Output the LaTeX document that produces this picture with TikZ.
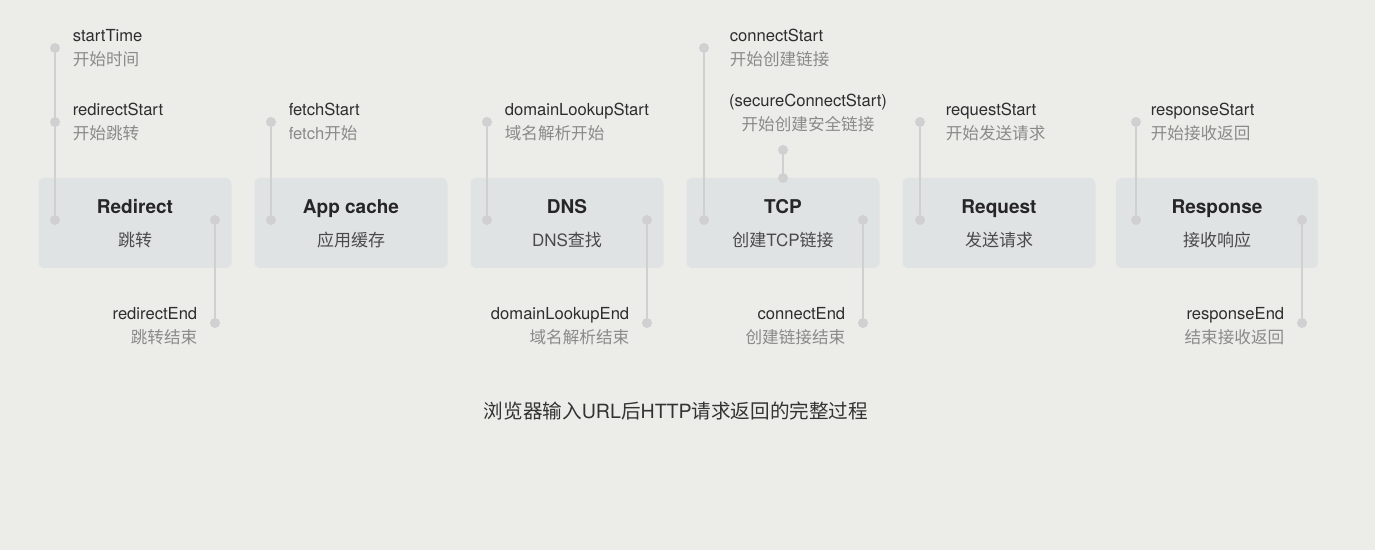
\documentclass[tikz,border=0pt]{standalone}
\usepackage{fontspec}
\setmainfont{TeX Gyre Heros}
\newfontfamily\cjk{Noto Sans CJK SC}
\usepackage{xcolor}
\usepackage{tikz}
\usetikzlibrary{positioning}
\definecolor{tpaper}{HTML}{ECECE9}
\definecolor{tboxfill}{HTML}{DFE3E4}
\definecolor{tline}{HTML}{D0D0D0}
\definecolor{tname}{HTML}{2E2E2E}
\definecolor{tcn}{HTML}{8A8A8A}
\definecolor{tsub}{HTML}{4A4A4A}
\tikzset{
  tbox/.style={rounded corners=3pt, fill=tboxfill, draw=none,
               minimum width=96.5pt, minimum height=45pt, inner sep=0pt},
  ttitle/.style={font=\fontsize{9.5}{10}\selectfont\bfseries, text=black!85,
                 inner sep=0pt, anchor=base},
  tsubt/.style={font=\fontsize{8.5}{10}\selectfont, text=tsub, inner sep=0pt, anchor=base},
  tdot/.style={circle, fill=tline, draw=none, minimum size=5pt, inner sep=0pt},
  tconn/.style={tline, line width=1pt},
  tlbl/.style={font=\fontsize{8.3}{12}\selectfont, inner sep=0pt},
  tcap/.style={font=\fontsize{9.8}{12}\selectfont, text=black!80, inner sep=0pt},
}
\newcommand{\tpair}[2]{\textcolor{tname}{#1}\\\textcolor{tcn}{#2}}

\begin{document}
\begin{tikzpicture}[x=0.5pt,y=-0.5pt]

  \fill[tpaper] (0,0) rectangle (1375,550);
  \useasboundingbox (0,0) rectangle (1375,550);

  % phases
  \foreach \n/\x/\w/\ttl/\sub in {redir/135/96.5/Redirect/{\cjk 跳转},
      appc/351/96.5/App cache/{\cjk 应用缓存}, dns/567/96.5/DNS/DNS{\cjk 查找},
      tcp/783/96.5/TCP/{\cjk 创建}TCP{\cjk 链接}, req/999/96.5/Request/{\cjk 发送请求},
      resp/1217/101/Response/{\cjk 接收响应}}{
    \node[tbox, minimum width=\w pt] (\n) at (\x,223) {};
    \node[ttitle] (\n-t) at (\x,213.5) {\ttl};
    \node[tsubt]  (\n-s) at (\x,246.5) {\sub};
  }

  % timing points
  \node[tdot] (st)  at (55,48)   {};
  \node[tdot] (rs)  at (55,122)  {};
  \node[tdot] (rsb) at (55,220)  {};
  \node[tdot] (reb) at (215,220) {};
  \node[tdot] (re)  at (215,323) {};
  \node[tdot] (fs)  at (271,122) {};
  \node[tdot] (fsb) at (271,220) {};
  \node[tdot] (ds)  at (487,122) {};
  \node[tdot] (dsb) at (487,220) {};
  \node[tdot] (deb) at (647,220) {};
  \node[tdot] (de)  at (647,323) {};
  \node[tdot] (cs)  at (704,48)  {};
  \node[tdot] (csb) at (704,220) {};
  \node[tdot] (ss)  at (783,150) {};
  \node[tdot] (ssb) at (783,178) {};
  \node[tdot] (ceb) at (863,220) {};
  \node[tdot] (ce)  at (863,323) {};
  \node[tdot] (qs)  at (920,122) {};
  \node[tdot] (qsb) at (920,220) {};
  \node[tdot] (ps)  at (1136,122) {};
  \node[tdot] (psb) at (1136,220) {};
  \node[tdot] (peb) at (1302,220) {};
  \node[tdot] (pe)  at (1302,323) {};

  \foreach \a/\b in {st/rsb, reb/re, fs/fsb, ds/dsb, deb/de, cs/csb,
                     ss/ssb, ceb/ce, qs/qsb, ps/psb, peb/pe}
    \draw[tconn] (\a) -- (\b);

  % labels
  \node[tlbl, align=left, right=6pt of st]  (st-l) {\tpair{startTime}{\cjk 开始时间}};
  \node[tlbl, align=left, right=6pt of rs]  (rs-l) {\tpair{redirectStart}{\cjk 开始跳转}};
  \node[tlbl, align=left, right=6pt of fs]  (fs-l) {\tpair{fetchStart}{fetch\cjk 开始}};
  \node[tlbl, align=left, right=6pt of ds]  (ds-l) {\tpair{domainLookupStart}{\cjk 域名解析开始}};
  \node[tlbl, align=left, right=10pt of cs] (cs-l) {\tpair{connectStart}{\cjk 开始创建链接}};
  \node[tlbl, align=left, right=10pt of qs] (qs-l) {\tpair{requestStart}{\cjk 开始发送请求}};
  \node[tlbl, align=left, right=4.5pt of ps] (ps-l) {\tpair{responseStart}{\cjk 开始接收返回}};
  \node[tlbl, align=center] (ss-l) at (808,113) {\tpair{(secureConnectStart)}{\cjk 开始创建安全链接}};
  \node[tlbl, align=right, left=6pt of re, yshift=-1.5pt] (re-l) {\tpair{redirectEnd}{\cjk 跳转结束}};
  \node[tlbl, align=right, left=6pt of de, yshift=-1.5pt] (de-l) {\tpair{domainLookupEnd}{\cjk 域名解析结束}};
  \node[tlbl, align=right, left=6pt of ce, yshift=-1.5pt] (ce-l) {\tpair{connectEnd}{\cjk 创建链接结束}};
  \node[tlbl, align=right, left=6pt of pe, yshift=-1.5pt] (pe-l) {\tpair{responseEnd}{\cjk 结束接收返回}};

  \node[tcap] (cap) at (676,411) {{\cjk 浏览器输入}URL{\cjk 后}HTTP{\cjk 请求返回的完整过程}};

\end{tikzpicture}
\end{document}
